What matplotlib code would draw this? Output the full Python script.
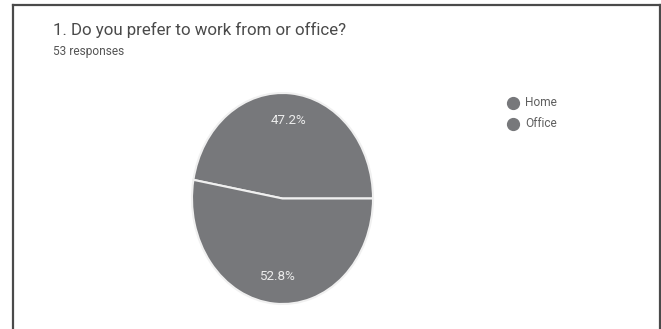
import matplotlib
matplotlib.use("Agg")
import matplotlib.pyplot as plt
from matplotlib.lines import Line2D

plt.rcParams['font.family'] = ['Roboto', 'DejaVu Sans']

title = "1. Do you prefer to work from or office?"
subtitle = "53 responses"
labels = ["Home", "Office"]
counts = [25, 28]
slice_color = "#77787b"

W, H = 661, 329
fig = plt.figure(figsize=(W / 100, H / 100), dpi=100)
fig.patch.set_facecolor("white")

def px_rect(x0, y0, x1, y1):
    return [x0 / W, 1 - y1 / H, (x1 - x0) / W, (y1 - y0) / H]

# Card border: left, top and right edges
border = "#4a4a4a"
fig.add_artist(Line2D([12.5 / W, 12.5 / W], [0, 1 - 4.5 / H], color=border, lw=1.6, transform=fig.transFigure))
fig.add_artist(Line2D([12.5 / W, 659.5 / W], [1 - 4.5 / H, 1 - 4.5 / H], color=border, lw=1.6, transform=fig.transFigure))
fig.add_artist(Line2D([659.5 / W, 659.5 / W], [0, 1 - 4.5 / H], color=border, lw=1.6, transform=fig.transFigure))

fig.text(53 / W, 1 - 30 / H, title, fontsize=12.2, color="#4a4a4a", va="center", ha="left")
fig.text(53 / W, 1 - 51 / H, subtitle, fontsize=8.6, color="#555555", va="center", ha="left")

# Pie drawn in a non-square axes so it renders as an ellipse
ax = fig.add_axes(px_rect(192, 93, 373, 304))
wedges, texts, autotexts = ax.pie(
    counts,
    colors=[slice_color, slice_color],
    startangle=0,
    counterclock=True,
    autopct="%1.1f%%",
    pctdistance=0.74,
    wedgeprops=dict(edgecolor="#f0f0f0", linewidth=1.5),
    textprops=dict(color="#ececec", fontsize=9.6),
)
ax.set_aspect("auto")
ax.set_xlim(-1.0, 1.0)
ax.set_ylim(-1.0, 1.0)
ax.axis("off")

# Legend
for i, lab in enumerate(labels):
    y = 1 - (103 + 21 * i) / H
    fig.add_artist(Line2D([513 / W], [y], marker="o", markersize=8.5, color=slice_color,
                          linestyle="none", transform=fig.transFigure))
    fig.text(525 / W, y, lab, fontsize=8.6, color="#5f5f5f", va="center", ha="left")

fig.savefig("out.png", dpi=100, facecolor="white")
